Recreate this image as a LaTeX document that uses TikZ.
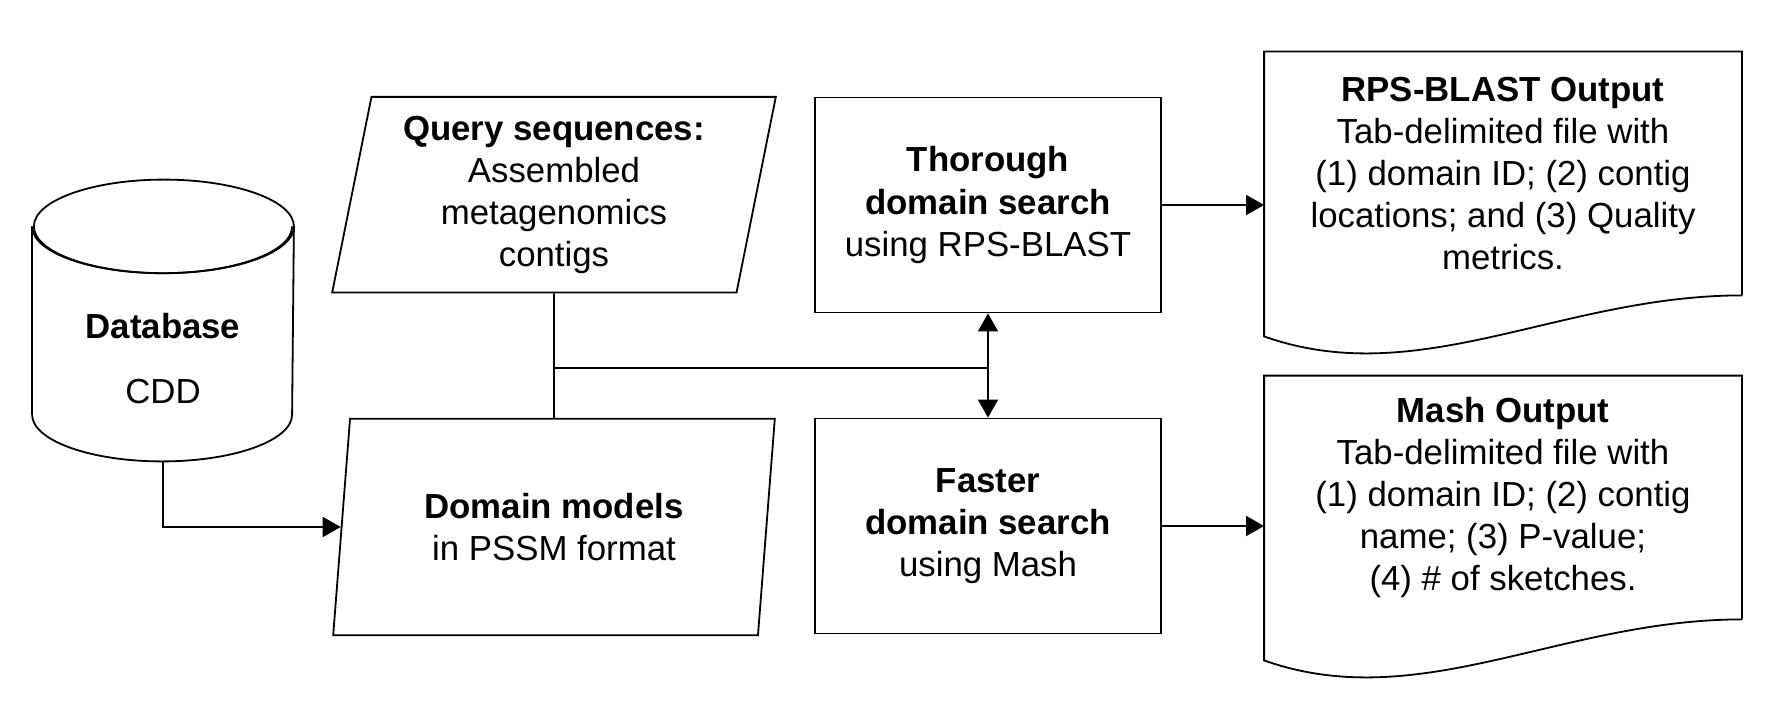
\documentclass[tikz,border=0pt]{standalone}
\usepackage{fontspec}
\setmainfont{Liberation Sans}
\usetikzlibrary{shapes.geometric,arrows.meta}

\begin{document}
\begin{tikzpicture}[x=0.5bp,y=-0.5bp,line width=0.9bp,
	>={Triangle[length=9bp,width=10bp]},
	every node/.style={font=\fontsize{17.4bp}{21bp}\selectfont,align=center},
	dbcyl/.style={rectangle,minimum width=130bp,minimum height=140bp,inner sep=0pt},
	iobox/.style={draw,trapezium,trapezium left angle=76,trapezium right angle=104,trapezium stretches body,inner sep=0pt},
	procbox/.style={draw,rectangle,minimum width=173bp,minimum height=107.5bp,inner sep=0pt},
	docbox/.style={rectangle,minimum width=238bp,minimum height=121bp,inner sep=0pt}]
	\useasboundingbox (0,0) rectangle (1784,720);

	\node (db)       at (163,320.5)  [dbcyl]  {};
	\node (dblabel)  at (163,359)    []       {\textbf{Database}\\[11.5bp]CDD};
	\node (query)    at (554,194.7)  [iobox,minimum width=221.8bp,minimum height=97.8bp]
		{\textbf{Query sequences:}\\Assembled\\metagenomics\\contigs};
	\node (domain)   at (554,527)    [iobox,minimum width=220.8bp,minimum height=108.2bp]
		{\textbf{Domain models}\\in PSSM format};
	\node (thorough) at (988,205)    [procbox] {\textbf{Thorough}\\\textbf{domain search}\\using RPS-BLAST};
	\node (faster)   at (988,526)    [procbox] {\textbf{Faster}\\\textbf{domain search}\\using Mash};
	\node (rps)      at (1503,173.5) [docbox]
		{\textbf{RPS-BLAST Output}\\Tab-delimited file with\\(1) domain ID; (2) contig\\locations; and (3) Quality\\metrics.};
	\node (mash)     at (1503,497.5) [docbox]
		{\textbf{Mash Output}\\Tab-delimited file with\\(1) domain ID; (2) contig\\name; (3) P-value;\\(4) \# of sketches.};
	\coordinate (split) at (988,368);

	% database cylinder
	\draw ([yshift=-23.4bp]db.north west) -- ([yshift=23.4bp]db.south west)
		arc[start angle=180,end angle=360,x radius=65bp,y radius=23.4bp]
		-- ([yshift=-23.4bp]db.north east)
		arc[start angle=0,end angle=360,x radius=65bp,y radius=23.4bp];
	\draw ([yshift=-23.4bp]db.north west) arc[start angle=180,end angle=360,x radius=65bp,y radius=23.4bp];

	% document outlines with wavy bottom
	\foreach \d in {rps,mash}
		\draw (\d.south east) -- (\d.north east) -- (\d.north west) -- ([yshift=-20.5bp]\d.south west)
			.. controls ([shift={(155,96)}]\d.south west) and ([shift={(-181,0)}]\d.south east) .. (\d.south east);

	\draw [->]  (db.south) |- (domain.west);
	\draw       (query.south) -- (domain.north);
	\draw       (query.south |- split) -- (split);
	\draw [->]  (split) -- (thorough.south);
	\draw [->]  (split) -- (faster.north);
	\draw [->]  (thorough.east) -- (thorough.east -| rps.west);
	\draw [->]  (faster.east) -- (faster.east -| mash.west);
\end{tikzpicture}
\end{document}
